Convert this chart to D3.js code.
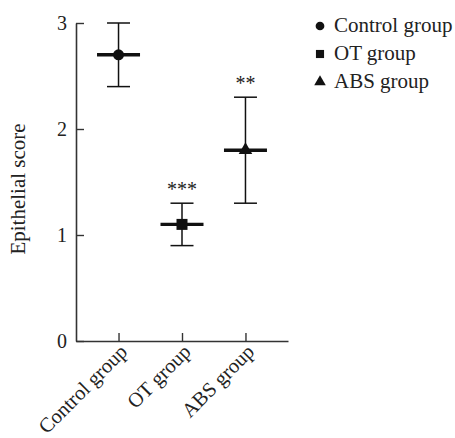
<!DOCTYPE html>
<html>
<head>
<meta charset="utf-8">
<script src="https://cdn.jsdelivr.net/npm/d3@7"></script>
<style>
  body { margin: 0; background: #fff; }
  svg text { font-family: 'Liberation Serif', 'Times New Roman', Times, 'DejaVu Serif', serif; fill: #222; }
</style>
</head>
<body>
<div id="chart"></div>
<script>
//-------------------------------
//Data
var groups = ['Control group', 'OT group', 'ABS group'];
var means  = [2.7, 1.1, 1.8];
var lows   = [2.4, 0.9, 1.3];
var highs  = [3.0, 1.3, 2.3];
var stars  = ['', '***', '**'];
var shapes = [d3.symbolCircle, d3.symbolSquare, d3.symbolTriangle];
var yTicks = [0, 1, 2, 3];

var serif = "'Liberation Serif', 'Times New Roman', Times, 'DejaVu Serif', serif";

//-------------------------------
//Layout
var width = 455, height = 438;
var margin = {left: 76, top: 23, right: 167, bottom: 97};
var w = width - margin.left - margin.right;
var h = height - margin.top - margin.bottom;

var svg = d3.select('#chart').append('svg')
    .attr('width', width)
    .attr('height', height)
    .attr('font-family', serif);

var g = svg.append('g')
    .attr('transform', 'translate(' + margin.left + ',' + margin.top + ')');

var x = d3.scalePoint()
    .domain(groups)
    .range([0, w])
    .padding(0.67);

var y = d3.scaleLinear()
    .domain([0, 3])
    .range([h, 0]);

//Axes, ticks pointing inward
var yAxis = g.append('g')
    .call(d3.axisLeft(y).tickValues(yTicks).tickFormat(d3.format('d'))
      .tickSizeInner(-8).tickSizeOuter(0).tickPadding(9));

var xAxis = g.append('g')
    .attr('transform', 'translate(0,' + h + ')')
    .call(d3.axisBottom(x).tickSizeInner(-8).tickSizeOuter(0).tickFormat(''));

[yAxis, xAxis].forEach(function(a) {
  a.attr('font-family', serif);
  a.selectAll('path, line').attr('stroke', '#333').attr('stroke-width', 1.4);
  a.select('.domain').attr('stroke-width', 1.6);
});

yAxis.selectAll('text')
    .style('font-size', '20px')
    .attr('fill', '#222');

//Rotated category labels
g.append('g').selectAll('text')
    .data(groups)
    .enter().append('text')
    .attr('transform', function(d) {
      return 'translate(' + (x(d) + 5) + ',' + (h + 7) + ') rotate(-45)';
    })
    .attr('text-anchor', 'end')
    .attr('dy', '0.35em')
    .style('font-size', '20.5px')
    .text(function(d) { return d; });

//Y label
svg.append('text')
    .attr('transform', 'translate(25,189) rotate(-90)')
    .attr('text-anchor', 'middle')
    .style('font-size', '21px')
    .text('Epithelial score');

//Error bars
var bars = g.selectAll('.bar')
    .data(groups)
    .enter().append('g')
    .attr('class', 'bar')
    .attr('transform', function(d) { return 'translate(' + x(d) + ',0)'; });

bars.append('line')
    .attr('y1', function(d, i) { return y(lows[i]); })
    .attr('y2', function(d, i) { return y(highs[i]); })
    .attr('stroke', '#111').attr('stroke-width', 1.5);

bars.selectAll('.cap')
    .data(function(d, i) { return [lows[i], highs[i]]; })
    .enter().append('line')
    .attr('class', 'cap')
    .attr('x1', -11.5).attr('x2', 11.5)
    .attr('y1', function(v) { return y(v); })
    .attr('y2', function(v) { return y(v); })
    .attr('stroke', '#111').attr('stroke-width', 1.5);

bars.append('line')
    .attr('x1', -21.5).attr('x2', 21.5)
    .attr('y1', function(d, i) { return y(means[i]); })
    .attr('y2', function(d, i) { return y(means[i]); })
    .attr('stroke', '#111').attr('stroke-width', 3.4);

var markSize = [95, 121, 80];
bars.append('path')
    .attr('d', function(d, i) { return d3.symbol().type(shapes[i]).size(markSize[i])(); })
    .attr('transform', function(d, i) { return 'translate(0,' + y(means[i]) + ')'; })
    .attr('fill', '#111');

bars.append('text')
    .attr('y', function(d, i) { return y(highs[i]) - 7; })
    .attr('text-anchor', 'middle')
    .style('font-size', '20px')
    .attr('fill', '#444')
    .text(function(d, i) { return stars[i]; });

//Legend
var legSize = [60, 66, 58];
var legend = svg.append('g')
    .attr('transform', 'translate(320,26)');

var rows = legend.selectAll('g')
    .data(groups)
    .enter().append('g')
    .attr('transform', function(d, i) { return 'translate(0,' + (i * 28) + ')'; });

rows.append('path')
    .attr('d', function(d, i) { return d3.symbol().type(shapes[i]).size(legSize[i])(); })
    .attr('fill', '#111');

rows.append('text')
    .attr('x', 14)
    .attr('y', 6)
    .style('font-size', '21px')
    .text(function(d) { return d; });
</script>
</body>
</html>
